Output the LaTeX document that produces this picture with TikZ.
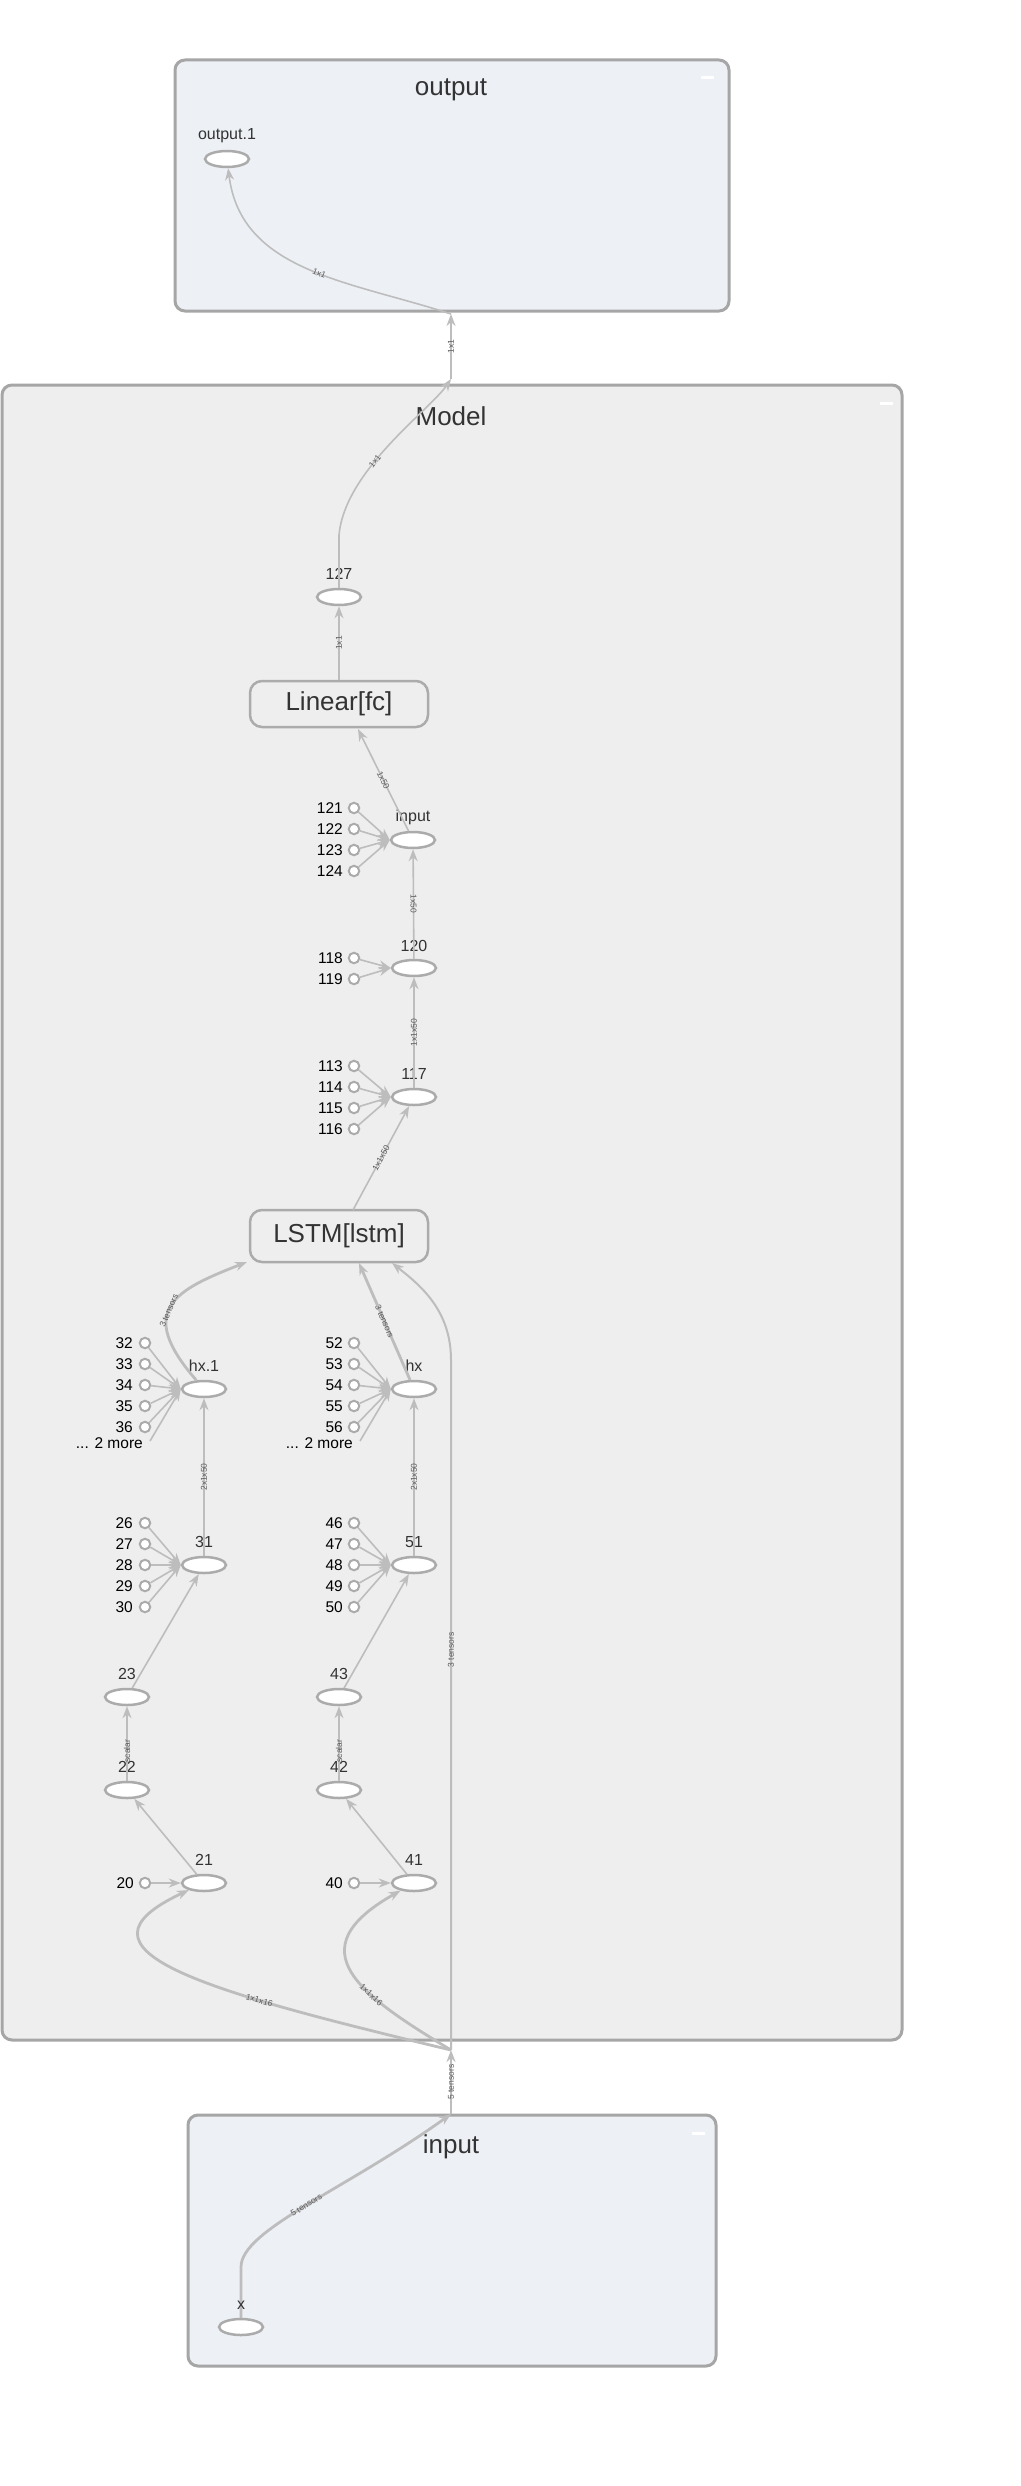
\documentclass[tikz,border=0pt]{standalone}
\usepackage{fontspec}
\setmainfont{Liberation Sans}
\usetikzlibrary{shapes.geometric,arrows.meta,calc}
\definecolor{edgec}{HTML}{BDBDBD}
\definecolor{nodec}{HTML}{ABABAB}
\definecolor{grpb}{HTML}{A6A6A6}
\definecolor{metaf}{HTML}{EDF0F5}
\definecolor{modf}{HTML}{EEEEEE}
\definecolor{txt}{HTML}{333333}
\definecolor{elc}{HTML}{5A5A5A}
\begin{document}
\begin{tikzpicture}[x=1pt,y=-1pt,
  grp/.style={draw=grpb, line width=3pt, rounded corners=10pt},
  title/.style={font=\fontsize{26}{30}\selectfont, text=txt, inner sep=0pt},
  op/.style={ellipse, draw=nodec, fill=white, line width=2.5pt, minimum width=44pt, minimum height=16pt, inner sep=0pt},
  lbl/.style={font=\fontsize{16}{19}\selectfont, text=txt, inner sep=0pt},
  cst/.style={circle, draw=nodec, fill=white, line width=2pt, minimum size=10.5pt, inner sep=0pt},
  clbl/.style={font=\fontsize{15.5}{18}\selectfont, text=black, inner sep=0pt, anchor=east},
  mod/.style={draw=nodec, fill=modf, line width=2.5pt, rounded corners=12pt, minimum width=178pt, minimum height=46pt, font=\fontsize{26}{30}\selectfont, text=txt, inner sep=0pt},
  ed/.style={draw=edgec, line width=1.6pt, -{Stealth[length=12pt,width=9pt]}},
  edm/.style={ed, line width=2pt},
  edt/.style={ed, line width=2.8pt},
  el/.style={font=\fontsize{8.5}{10}\selectfont, text=elc, sloped, inner sep=1pt},
  minus/.style={fill=white, minimum width=13pt, minimum height=3pt, inner sep=0pt}
]
\useasboundingbox (0,0) rectangle (1020,2486);
\fill[white] (0,0) rectangle (1020,2486);

% groups
\draw[grp, fill=metaf] (175,60) rectangle (729,311);
\draw[grp, fill=modf] (2,385) rectangle (902,2040);
\draw[grp, fill=metaf] (188,2115) rectangle (716,2366);

\node[title] (toutput) at (451,90) {output};
\node[title] (tmodel) at (451,416) {Model};
\node[title] (tinput) at (451,2147) {input};
\node[minus] (mo) at (707,78) {};
\node[minus] (mm) at (886,403) {};
\node[minus] (mi) at (698,2133) {};

% output group
\node[op] (o1) at (227,159) {};
\node[lbl] (lo1) at (227,136) {output.1};

% model
\node[op] (n127) at (339,597) {};
\node[lbl] (l127) at (339,574) {127};
\node[mod] (lin) at (339,704) {Linear[fc]};
\node[op] (inp) at (413,840) {};
\node[lbl] (linp) at (413,817) {input};
\foreach \n/\y in {121/808,122/829,123/850,124/871}{
  \node[cst] (c\n) at (354,\y) {};
  \node[clbl] (t\n) at (343,\y) {\n};
  \draw[ed] (c\n) -- (inp.west);
}
\node[op] (n120) at (414,968) {};
\node[lbl] (l120) at (414,946) {120};
\foreach \n/\y in {118/958,119/979}{
  \node[cst] (c\n) at (354,\y) {};
  \node[clbl] (t\n) at (343,\y) {\n};
  \draw[ed] (c\n) -- (n120.west);
}
\node[op] (n117) at (414,1097) {};
\node[lbl] (l117) at (414,1074) {117};
\foreach \n/\y in {113/1066,114/1087,115/1108,116/1129}{
  \node[cst] (c\n) at (354,\y) {};
  \node[clbl] (t\n) at (343,\y) {\n};
  \draw[ed] (c\n) -- (n117.west);
}
\node[mod, minimum height=52pt] (lstm) at (339,1236) {LSTM[lstm]};

\node[op] (hx1) at (204,1389) {};
\node[lbl] (lhx1) at (204,1366) {hx.1};
\foreach \n/\y in {32/1343,33/1364,34/1385,35/1406,36/1427}{
  \node[cst] (c\n) at (145,\y) {};
  \node[clbl] (t\n) at (133,\y) {\n};
  \draw[ed] (c\n) -- (hx1.west);
}
\node[clbl] (more1) at (143,1443) {... 2 more};
\coordinate (more1e) at (150,1441);
\draw[ed] (more1e) -- (hx1.west);

\node[op] (hx) at (414,1389) {};
\node[lbl] (lhx) at (414,1366) {hx};
\foreach \n/\y in {52/1343,53/1364,54/1385,55/1406,56/1427}{
  \node[cst] (c\n) at (354,\y) {};
  \node[clbl] (t\n) at (343,\y) {\n};
  \draw[ed] (c\n) -- (hx.west);
}
\node[clbl] (more2) at (353,1443) {... 2 more};
\coordinate (more2e) at (360,1441);
\draw[ed] (more2e) -- (hx.west);

\node[op] (n31) at (204,1565) {};
\node[lbl] (l31) at (204,1542) {31};
\foreach \n/\y in {26/1523,27/1544,28/1565,29/1586,30/1607}{
  \node[cst] (c\n) at (145,\y) {};
  \node[clbl] (t\n) at (133,\y) {\n};
  \draw[ed] (c\n) -- (n31.west);
}
\node[op] (n51) at (414,1565) {};
\node[lbl] (l51) at (414,1542) {51};
\foreach \n/\y in {46/1523,47/1544,48/1565,49/1586,50/1607}{
  \node[cst] (c\n) at (354,\y) {};
  \node[clbl] (t\n) at (343,\y) {\n};
  \draw[ed] (c\n) -- (n51.west);
}

\node[op] (n23) at (127,1697) {};
\node[lbl] (l23) at (127,1674) {23};
\node[op] (n43) at (339,1697) {};
\node[lbl] (l43) at (339,1674) {43};
\node[op] (n22) at (127,1790) {};
\node[lbl] (l22) at (127,1767) {22};
\node[op] (n42) at (339,1790) {};
\node[lbl] (l42) at (339,1767) {42};
\node[op] (n21) at (204,1883) {};
\node[lbl] (l21) at (204,1860) {21};
\node[cst] (c20) at (145,1883) {};
\node[clbl] (t20) at (134,1883) {20};
\node[op] (n41) at (414,1883) {};
\node[lbl] (l41) at (414,1860) {41};
\node[cst] (c40) at (354,1883) {};
\node[clbl] (t40) at (343,1883) {40};

% input group
\node[op] (xn) at (241,2327) {};

% junction coordinates
\coordinate (ob) at (451,314);
\coordinate (mt) at (451,379);
\coordinate (J) at (451,2050);
\coordinate (it) at (451,2114);
\coordinate (linb) at (358,729);
\coordinate (lstmt) at (353,1210);
\coordinate (lb1) at (247,1262);
\coordinate (lb2) at (359,1263);
\coordinate (lb3) at (392,1263);
\coordinate (bend1) at (339,535);
\coordinate (bend2) at (451,1360);
\coordinate (bend3) at (241,2267);

% edges
\draw[ed] (mt) -- node[el]{1x1} (ob);
\draw[ed] (ob) .. controls (350,281) and (241,272) .. node[el,pos=0.45]{1x1} (o1);
\draw[ed] (n127) -- (bend1) .. controls (345,470) and (430,410) .. node[el,pos=0.4]{1x1} (mt);
\draw[ed] (lin) -- node[el]{1x1} (n127);
\draw[ed] (inp) -- node[el]{1x50} (linb);
\draw[ed] (n120) -- node[el]{1x50} (inp);
\draw[ed] (n117) -- node[el]{1x1x50} (n120);
\draw[ed] (lstmt) -- node[el]{1x1x50} (n117);

\draw[edt] (hx1) .. controls (135,1310) and (175,1290) .. node[el,pos=0.45]{3 tensors} (lb1);
\draw[edt] (hx) -- node[el]{3 tensors} (lb2);
\draw[edm] (J) -- node[el,pos=0.58]{3 tensors} (bend2) .. controls (451,1310) and (420,1285) .. (lb3);

\draw[ed] (n31) -- node[el]{2x1x50} (hx1);
\draw[ed] (n51) -- node[el]{2x1x50} (hx);
\draw[ed] (n23) -- (n31);
\draw[ed] (n43) -- (n51);
\draw[ed] (n22) -- node[el,pos=0.4]{scalar} (n23);
\draw[ed] (n42) -- node[el,pos=0.4]{scalar} (n43);
\draw[ed] (n21) -- (n22);
\draw[ed] (n41) -- (n42);
\draw[edt] (c20) -- (n21);
\draw[edt] (c40) -- (n41);

\draw[edt] (J) .. controls (200,1990) and (60,1950) .. node[el,pos=0.3]{1x1x16} (n21);
\draw[edt] (J) .. controls (360,1995) and (295,1950) .. node[el,pos=0.35]{1x1x16} (n41);

\draw[edm] (it) -- node[el]{5 tensors} (J);
\draw[edt] (xn) -- (bend3) .. controls (241,2230) and (345,2190) .. node[el,pos=0.5]{5 tensors} (it);
\node[lbl] (lx) at (241,2305) {x};
\end{tikzpicture}
\end{document}
